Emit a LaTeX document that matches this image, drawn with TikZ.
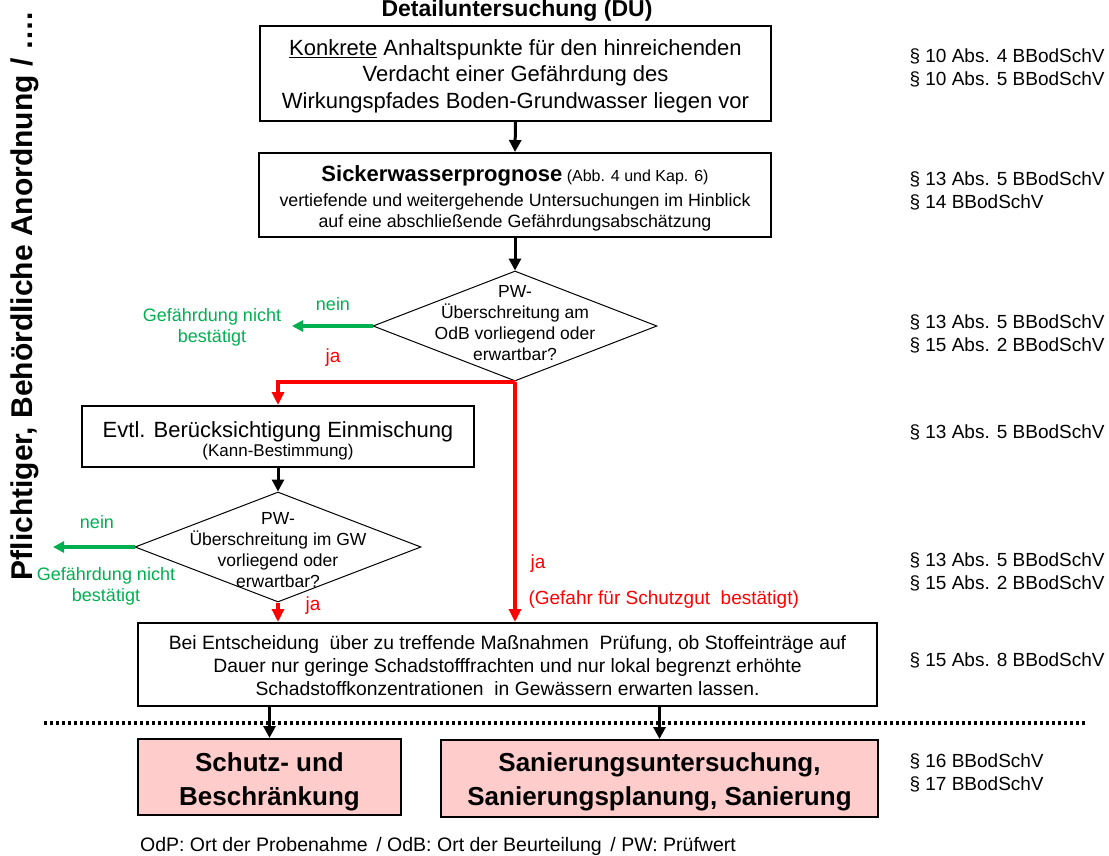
\documentclass[tikz,border=0pt]{standalone}
\usepackage{fontspec}
\setmainfont{Liberation Sans}
\usetikzlibrary{arrows.meta,shapes.geometric}
\definecolor{okgreen}{RGB}{0,176,80}
\definecolor{boxpink}{RGB}{255,204,204}
\begin{document}
\begin{tikzpicture}[x=1pt,y=-1pt,
  box/.style={draw=black, line width=2pt, inner sep=0pt, align=center},
  resultbox/.style={box, fill=boxpink, font=\fontsize{26}{34}\selectfont\bfseries},
  dia/.style={draw=black, line width=1pt, diamond, inner sep=0pt},
  diatext/.style={align=center, font=\fontsize{17.5}{21}\selectfont},
  blackarrow/.style={draw=black, line width=3pt, -{Triangle[length=12pt,width=12pt]}},
  redarrow/.style={draw=red, line width=4pt, -{Triangle[length=13pt,width=12pt]}},
  redline/.style={draw=red, line width=4pt},
  greenarrow/.style={draw=okgreen, line width=4pt, -{Triangle[length=11pt,width=11pt]}},
  greentext/.style={text=okgreen, align=center, font=\fontsize{18}{21}\selectfont},
  redtext/.style={text=red, font=\fontsize{19}{23}\selectfont},
  lawtext/.style={anchor=west, align=left, font=\fontsize{19}{23}\selectfont},
]
\useasboundingbox (0,0) rectangle (1109,856);

% side caption and heading
\node[rotate=90, font=\fontsize{30}{36}\selectfont\bfseries] (side) at (25,296)
  {Pflichtiger, Behördliche Anordnung / ….};
\node[font=\fontsize{23}{27}\selectfont\bfseries] (title) at (517,11)
  {Detailuntersuchung (DU)};

% main column
\node[box, minimum width=511, minimum height=95,
      font=\fontsize{22}{27}\selectfont] (b1) at (515.5,73.5) {};
\node[align=center, font=\fontsize{22}{26.5}\selectfont] (b1t) at (515.5,76)
  {\underline{Konkrete} Anhaltspunkte für den hinreichenden\\
   Verdacht einer Gefährdung des\\
   Wirkungspfades Boden-Grundwasser liegen vor};

\node[box, minimum width=512, minimum height=84] (b2) at (515,195) {};
\node[align=center, font=\fontsize{17.8}{21.5}\selectfont] (b2t) at (515,198.5)
  {{\fontsize{22}{24}\selectfont\bfseries Sickerwasserprognose}{\fontsize{16}{20}\selectfont\ (Abb. 4 und Kap. 6)}\\[3pt]
   vertiefende und weitergehende Untersuchungen im Hinblick\\
   auf eine abschließende Gefährdungsabschätzung};

\node[dia, minimum width=284, minimum height=110] (d1) at (515,326) {};
\node[diatext] (d1t) at (515,323)
  {PW-\\Überschreitung am\\OdB vorliegend oder\\erwartbar?};

\node[box, minimum width=392, minimum height=61] (b3) at (278,436.5) {};
\node[align=center] (b3t) at (278,441)
  {{\fontsize{22}{26}\selectfont Evtl. Berücksichtigung Einmischung}\\[1pt]
   {\fontsize{17}{21}\selectfont (Kann-Bestimmung)}};

\node[dia, minimum width=286, minimum height=110] (d2) at (278,547) {};
\node[diatext] (d2t) at (278,550)
  {PW-\\Überschreitung im GW\\vorliegend oder\\erwartbar?};

\node[box, minimum width=739, minimum height=83] (b5) at (507.5,664.5) {};
\node[align=center, font=\fontsize{19.3}{23}\selectfont] (b5t) at (507.5,666)
  {Bei Entscheidung \ über zu treffende Maßnahmen \ Prüfung, ob Stoffeinträge auf\\
   Dauer nur geringe Schadstofffrachten und nur lokal begrenzt erhöhte\\
   Schadstoffkonzentrationen \ in Gewässern erwarten lassen.};

\node[resultbox, minimum width=263, minimum height=76] (b6) at (269.5,777) {};
\node[align=center, font=\fontsize{26}{34}\selectfont\bfseries] (b6t) at (269.5,782)
  {Schutz- und\\Beschränkung};
\node[resultbox, minimum width=437, minimum height=77] (b7) at (659.5,778.5) {};
\node[align=center, font=\fontsize{26}{34}\selectfont\bfseries] (b7t) at (659.5,782)
  {Sanierungsuntersuchung,\\Sanierungsplanung, Sanierung};

% connectors
\draw[blackarrow] (b1.south) -- (b2.north);
\draw[blackarrow] (b2.south) -- (d1.north);
\draw[blackarrow] (b3.south) -- (d2.north);
\draw[redarrow] (d1.south) -| (b3.north);
\draw[redarrow] (d1.south) -- (d1.south |- b5.north);
\draw[redarrow] (d2.south) -- (d2.south |- b5.north);
\draw[blackarrow] (b6.north |- b5.south) -- (b6.north);
\draw[blackarrow] (b7.north |- b5.south) -- (b7.north);

\coordinate (g1) at (292,326);
\coordinate (g2) at (53,547);
\draw[greenarrow] (d1.west) -- (g1);
\draw[greenarrow] (d2.west) -- (g2);

% branch labels
\node[greentext] (n1) at (333,304) {nein};
\node[greentext] (n1t) at (212,327) {Gefährdung nicht\\bestätigt};
\node[redtext] (j1) at (333,358) {ja};
\node[greentext] (n2) at (97,522) {nein};
\node[greentext] (n2t) at (106,586) {Gefährdung nicht\\bestätigt};
\node[redtext] (j2) at (313,606) {ja};
\node[redtext, anchor=west] (j3) at (527,564) {ja};
\node[redtext, anchor=west] (j3t) at (525,600) {(Gefahr für Schutzgut \ bestätigt)};

% separator
\coordinate (sepl) at (44,723);
\coordinate (sepr) at (1086,723);
\draw[line width=4pt, dash pattern=on 3pt off 3pt] (sepl) -- (sepr);

% legal references
\node[lawtext] (l1) at (906,68) {§ 10 Abs. 4 BBodSchV\\§ 10 Abs. 5 BBodSchV};
\node[lawtext] (l2) at (906,191) {§ 13 Abs. 5 BBodSchV\\§ 14 BBodSchV};
\node[lawtext] (l3) at (906,334) {§ 13 Abs. 5 BBodSchV\\§ 15 Abs. 2 BBodSchV};
\node[lawtext] (l4) at (906,432) {§ 13 Abs. 5 BBodSchV};
\node[lawtext] (l5) at (906,572) {§ 13 Abs. 5 BBodSchV\\§ 15 Abs. 2 BBodSchV};
\node[lawtext] (l6) at (906,660) {§ 15 Abs. 8 BBodSchV};
\node[lawtext] (l7) at (906,773) {§ 16 BBodSchV\\§ 17 BBodSchV};

% footnote
\node[font=\fontsize{19.5}{23}\selectfont] (foot) at (438,846)
  {OdP: Ort der Probenahme \,/ OdB: Ort der Beurteilung \,/ PW: Prüfwert};
\end{tikzpicture}
\end{document}
